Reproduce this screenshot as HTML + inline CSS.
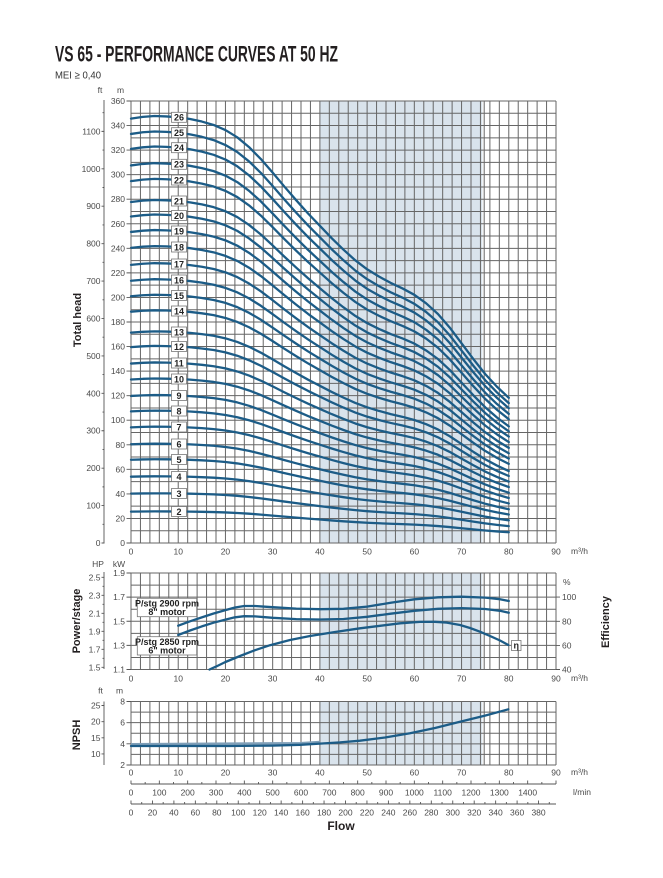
<!DOCTYPE html>
<html><head><meta charset="utf-8"><style>
html,body{margin:0;padding:0;background:#fff;}
svg{display:block;}
.t{font-family:"Liberation Sans",sans-serif;font-size:8.5px;fill:#4a4a4a;}
.b{font-family:"Liberation Sans",sans-serif;font-weight:bold;fill:#231f20;}
.g{fill:none;stroke:#666;stroke-width:1;}
.c{fill:none;stroke:#1c5c87;stroke-width:2.3;stroke-linejoin:round;stroke-linecap:round;}
.bx{fill:#fff;stroke:#777;stroke-width:0.8;}
.lb{font-family:"Liberation Sans",sans-serif;font-weight:bold;font-size:9px;fill:#222;text-anchor:middle;}
</style></head><body>
<svg width="663" height="878" viewBox="0 0 663 878" xmlns="http://www.w3.org/2000/svg">
<defs>
</defs>
<rect width="663" height="878" fill="#fff"/>
<text class="b" x="55" y="61.5" font-size="22.5" textLength="283" lengthAdjust="spacingAndGlyphs">VS 65 - PERFORMANCE CURVES AT 50 HZ</text>
<text x="55" y="78.5" font-family="Liberation Sans, sans-serif" font-size="10.5" fill="#333" textLength="46" lengthAdjust="spacingAndGlyphs">MEI ≥ 0,40</text>

<rect x="319.9" y="101" width="162.5" height="442" fill="#d9e3ec"/>
<rect x="319.9" y="573" width="162.5" height="96.5" fill="#d9e3ec"/>
<rect x="319.9" y="701.5" width="162.5" height="63.5" fill="#d9e3ec"/>

<path class="g" vector-effect="non-scaling-stroke" transform="translate(0 101) scale(1 442)" d="M131 0V1M140.44 0V1M149.89 0V1M159.33 0V1M168.78 0V1M178.22 0V1M187.67 0V1M197.11 0V1M206.56 0V1M216 0V1M225.44 0V1M234.89 0V1M244.33 0V1M253.78 0V1M263.22 0V1M272.67 0V1M282.11 0V1M291.56 0V1M301 0V1M310.44 0V1M319.89 0V1M329.33 0V1M338.78 0V1M348.22 0V1M357.67 0V1M367.11 0V1M376.56 0V1M386 0V1M395.44 0V1M404.89 0V1M414.33 0V1M423.78 0V1M433.22 0V1M442.67 0V1M452.11 0V1M461.56 0V1M471 0V1M480.44 0V1M484.2 0V1M489.89 0V1M499.33 0V1M508.78 0V1M518.22 0V1M527.67 0V1M537.11 0V1M546.56 0V1M556 0V1"/>
<path class="g" vector-effect="non-scaling-stroke" transform="translate(0 573) scale(1 96.5)" d="M131 0V1M140.44 0V1M149.89 0V1M159.33 0V1M168.78 0V1M178.22 0V1M187.67 0V1M197.11 0V1M206.56 0V1M216 0V1M225.44 0V1M234.89 0V1M244.33 0V1M253.78 0V1M263.22 0V1M272.67 0V1M282.11 0V1M291.56 0V1M301 0V1M310.44 0V1M319.89 0V1M329.33 0V1M338.78 0V1M348.22 0V1M357.67 0V1M367.11 0V1M376.56 0V1M386 0V1M395.44 0V1M404.89 0V1M414.33 0V1M423.78 0V1M433.22 0V1M442.67 0V1M452.11 0V1M461.56 0V1M471 0V1M480.44 0V1M484.2 0V1M489.89 0V1M499.33 0V1M508.78 0V1M518.22 0V1M527.67 0V1M537.11 0V1M546.56 0V1M556 0V1"/>
<path class="g" vector-effect="non-scaling-stroke" transform="translate(0 701.5) scale(1 63.5)" d="M131 0V1M140.44 0V1M149.89 0V1M159.33 0V1M168.78 0V1M178.22 0V1M187.67 0V1M197.11 0V1M206.56 0V1M216 0V1M225.44 0V1M234.89 0V1M244.33 0V1M253.78 0V1M263.22 0V1M272.67 0V1M282.11 0V1M291.56 0V1M301 0V1M310.44 0V1M319.89 0V1M329.33 0V1M338.78 0V1M348.22 0V1M357.67 0V1M367.11 0V1M376.56 0V1M386 0V1M395.44 0V1M404.89 0V1M414.33 0V1M423.78 0V1M433.22 0V1M442.67 0V1M452.11 0V1M461.56 0V1M471 0V1M480.44 0V1M484.2 0V1M489.89 0V1M499.33 0V1M508.78 0V1M518.22 0V1M527.67 0V1M537.11 0V1M546.56 0V1M556 0V1"/>
<path class="g" vector-effect="non-scaling-stroke" transform="translate(131 101) scale(425 12.2778)" d="M0 0H1M0 1H1M0 2H1M0 3H1M0 4H1M0 5H1M0 6H1M0 7H1M0 8H1M0 9H1M0 10H1M0 11H1M0 12H1M0 13H1M0 14H1M0 15H1M0 16H1M0 17H1M0 18H1M0 19H1M0 20H1M0 21H1M0 22H1M0 23H1M0 24H1M0 25H1M0 26H1M0 27H1M0 28H1M0 29H1M0 30H1M0 31H1M0 32H1M0 33H1M0 34H1M0 35H1M0 36H1"/>
<path class="g" vector-effect="non-scaling-stroke" transform="translate(131 573) scale(425 12.0625)" d="M0 0H1M0 1H1M0 2H1M0 3H1M0 4H1M0 5H1M0 6H1M0 7H1M0 8H1"/>
<path class="g" vector-effect="non-scaling-stroke" transform="translate(131 701.5) scale(425 10.5833)" d="M0 0H1M0 1H1M0 2H1M0 3H1M0 4H1M0 5H1M0 6H1"/>

<g class="c">
<polyline vector-effect="non-scaling-stroke" transform="translate(131 543) scale(4.7222 -425.7)" points="0,0.997 2.5,1.001 5,1.003 7.5,1.002 10,1 12.5,0.996 15,0.990 17.5,0.982 20,0.970 22.5,0.953 25,0.930 27.5,0.902 30,0.870 32.5,0.837 35,0.805 37.5,0.774 40,0.745 42.5,0.716 45,0.689 47.5,0.664 50,0.643 52.5,0.626 55,0.611 57.5,0.598 60,0.583 62.5,0.563 65,0.538 67.5,0.506 70,0.469 72.5,0.432 75,0.397 77.5,0.367 80,0.341"/>
<polyline vector-effect="non-scaling-stroke" transform="translate(131 543) scale(4.7222 -410.3)" points="0,0.997 2.5,1.001 5,1.003 7.5,1.002 10,1 12.5,0.996 15,0.990 17.5,0.982 20,0.970 22.5,0.953 25,0.930 27.5,0.902 30,0.870 32.5,0.837 35,0.805 37.5,0.774 40,0.745 42.5,0.716 45,0.689 47.5,0.664 50,0.643 52.5,0.626 55,0.611 57.5,0.598 60,0.583 62.5,0.563 65,0.538 67.5,0.506 70,0.469 72.5,0.432 75,0.397 77.5,0.367 80,0.341"/>
<polyline vector-effect="non-scaling-stroke" transform="translate(131 543) scale(4.7222 -395.3)" points="0,0.997 2.5,1.001 5,1.003 7.5,1.002 10,1 12.5,0.996 15,0.990 17.5,0.982 20,0.970 22.5,0.953 25,0.930 27.5,0.902 30,0.870 32.5,0.837 35,0.805 37.5,0.774 40,0.745 42.5,0.716 45,0.689 47.5,0.664 50,0.643 52.5,0.626 55,0.611 57.5,0.598 60,0.583 62.5,0.563 65,0.538 67.5,0.506 70,0.469 72.5,0.432 75,0.397 77.5,0.367 80,0.341"/>
<polyline vector-effect="non-scaling-stroke" transform="translate(131 543) scale(4.7222 -378.7)" points="0,0.997 2.5,1.001 5,1.003 7.5,1.002 10,1 12.5,0.996 15,0.990 17.5,0.982 20,0.970 22.5,0.953 25,0.930 27.5,0.902 30,0.870 32.5,0.837 35,0.805 37.5,0.774 40,0.745 42.5,0.716 45,0.689 47.5,0.664 50,0.643 52.5,0.626 55,0.611 57.5,0.598 60,0.583 62.5,0.563 65,0.538 67.5,0.506 70,0.469 72.5,0.432 75,0.397 77.5,0.367 80,0.341"/>
<polyline vector-effect="non-scaling-stroke" transform="translate(131 543) scale(4.7222 -363)" points="0,0.997 2.5,1.001 5,1.003 7.5,1.002 10,1 12.5,0.996 15,0.990 17.5,0.982 20,0.970 22.5,0.953 25,0.930 27.5,0.902 30,0.870 32.5,0.837 35,0.805 37.5,0.774 40,0.745 42.5,0.716 45,0.689 47.5,0.664 50,0.643 52.5,0.626 55,0.611 57.5,0.598 60,0.583 62.5,0.563 65,0.538 67.5,0.506 70,0.469 72.5,0.432 75,0.397 77.5,0.367 80,0.341"/>
<polyline vector-effect="non-scaling-stroke" transform="translate(131 543) scale(4.7222 -342)" points="0,0.997 2.5,1.001 5,1.003 7.5,1.002 10,1 12.5,0.996 15,0.990 17.5,0.982 20,0.970 22.5,0.953 25,0.930 27.5,0.902 30,0.870 32.5,0.837 35,0.805 37.5,0.774 40,0.745 42.5,0.716 45,0.689 47.5,0.664 50,0.643 52.5,0.626 55,0.611 57.5,0.598 60,0.583 62.5,0.563 65,0.538 67.5,0.506 70,0.469 72.5,0.432 75,0.397 77.5,0.367 80,0.341"/>
<polyline vector-effect="non-scaling-stroke" transform="translate(131 543) scale(4.7222 -327.5)" points="0,0.997 2.5,1.001 5,1.003 7.5,1.002 10,1 12.5,0.996 15,0.990 17.5,0.982 20,0.970 22.5,0.953 25,0.930 27.5,0.902 30,0.870 32.5,0.837 35,0.805 37.5,0.774 40,0.745 42.5,0.716 45,0.689 47.5,0.664 50,0.643 52.5,0.626 55,0.611 57.5,0.598 60,0.583 62.5,0.563 65,0.538 67.5,0.506 70,0.469 72.5,0.432 75,0.397 77.5,0.367 80,0.341"/>
<polyline vector-effect="non-scaling-stroke" transform="translate(131 543) scale(4.7222 -312)" points="0,0.997 2.5,1.001 5,1.003 7.5,1.002 10,1 12.5,0.996 15,0.990 17.5,0.982 20,0.970 22.5,0.953 25,0.930 27.5,0.902 30,0.870 32.5,0.837 35,0.805 37.5,0.774 40,0.745 42.5,0.716 45,0.689 47.5,0.664 50,0.643 52.5,0.626 55,0.611 57.5,0.598 60,0.583 62.5,0.563 65,0.538 67.5,0.506 70,0.469 72.5,0.432 75,0.397 77.5,0.367 80,0.341"/>
<polyline vector-effect="non-scaling-stroke" transform="translate(131 543) scale(4.7222 -296)" points="0,0.997 2.5,1.001 5,1.003 7.5,1.002 10,1 12.5,0.996 15,0.990 17.5,0.982 20,0.970 22.5,0.953 25,0.930 27.5,0.902 30,0.870 32.5,0.837 35,0.805 37.5,0.774 40,0.745 42.5,0.716 45,0.689 47.5,0.664 50,0.643 52.5,0.626 55,0.611 57.5,0.598 60,0.583 62.5,0.563 65,0.538 67.5,0.506 70,0.469 72.5,0.432 75,0.397 77.5,0.367 80,0.341"/>
<polyline vector-effect="non-scaling-stroke" transform="translate(131 543) scale(4.7222 -279)" points="0,0.997 2.5,1.001 5,1.003 7.5,1.002 10,1 12.5,0.996 15,0.990 17.5,0.982 20,0.970 22.5,0.953 25,0.930 27.5,0.902 30,0.870 32.5,0.837 35,0.805 37.5,0.774 40,0.745 42.5,0.716 45,0.689 47.5,0.664 50,0.643 52.5,0.626 55,0.611 57.5,0.598 60,0.583 62.5,0.563 65,0.538 67.5,0.506 70,0.469 72.5,0.432 75,0.397 77.5,0.367 80,0.341"/>
<polyline vector-effect="non-scaling-stroke" transform="translate(131 543) scale(4.7222 -263)" points="0,0.997 2.5,1.001 5,1.003 7.5,1.002 10,1 12.5,0.996 15,0.990 17.5,0.982 20,0.970 22.5,0.953 25,0.930 27.5,0.902 30,0.870 32.5,0.837 35,0.805 37.5,0.774 40,0.745 42.5,0.716 45,0.689 47.5,0.664 50,0.643 52.5,0.626 55,0.611 57.5,0.598 60,0.583 62.5,0.563 65,0.538 67.5,0.506 70,0.469 72.5,0.432 75,0.397 77.5,0.367 80,0.341"/>
<polyline vector-effect="non-scaling-stroke" transform="translate(131 543) scale(4.7222 -247.5)" points="0,0.997 2.5,1.001 5,1.003 7.5,1.002 10,1 12.5,0.996 15,0.990 17.5,0.982 20,0.970 22.5,0.953 25,0.930 27.5,0.902 30,0.870 32.5,0.837 35,0.805 37.5,0.774 40,0.745 42.5,0.716 45,0.689 47.5,0.664 50,0.643 52.5,0.626 55,0.611 57.5,0.598 60,0.583 62.5,0.563 65,0.538 67.5,0.506 70,0.469 72.5,0.432 75,0.397 77.5,0.367 80,0.341"/>
<polyline vector-effect="non-scaling-stroke" transform="translate(131 543) scale(4.7222 -232)" points="0,0.997 2.5,1.001 5,1.003 7.5,1.002 10,1 12.5,0.996 15,0.990 17.5,0.982 20,0.970 22.5,0.953 25,0.930 27.5,0.902 30,0.870 32.5,0.837 35,0.805 37.5,0.774 40,0.745 42.5,0.716 45,0.689 47.5,0.664 50,0.643 52.5,0.626 55,0.611 57.5,0.598 60,0.583 62.5,0.563 65,0.538 67.5,0.506 70,0.469 72.5,0.432 75,0.397 77.5,0.367 80,0.341"/>
<polyline vector-effect="non-scaling-stroke" transform="translate(131 543) scale(4.7222 -211)" points="0,0.997 2.5,1.001 5,1.003 7.5,1.002 10,1 12.5,0.996 15,0.990 17.5,0.982 20,0.970 22.5,0.953 25,0.930 27.5,0.902 30,0.870 32.5,0.837 35,0.805 37.5,0.774 40,0.745 42.5,0.716 45,0.689 47.5,0.664 50,0.643 52.5,0.626 55,0.611 57.5,0.598 60,0.583 62.5,0.563 65,0.538 67.5,0.506 70,0.469 72.5,0.432 75,0.397 77.5,0.367 80,0.341"/>
<polyline vector-effect="non-scaling-stroke" transform="translate(131 543) scale(4.7222 -196.5)" points="0,0.997 2.5,1.001 5,1.003 7.5,1.002 10,1 12.5,0.996 15,0.990 17.5,0.982 20,0.970 22.5,0.953 25,0.930 27.5,0.902 30,0.870 32.5,0.837 35,0.805 37.5,0.774 40,0.745 42.5,0.716 45,0.689 47.5,0.664 50,0.643 52.5,0.626 55,0.611 57.5,0.598 60,0.583 62.5,0.563 65,0.538 67.5,0.506 70,0.469 72.5,0.432 75,0.397 77.5,0.367 80,0.341"/>
<polyline vector-effect="non-scaling-stroke" transform="translate(131 543) scale(4.7222 -180)" points="0,0.997 2.5,1.001 5,1.003 7.5,1.002 10,1 12.5,0.996 15,0.990 17.5,0.982 20,0.970 22.5,0.953 25,0.930 27.5,0.902 30,0.870 32.5,0.837 35,0.805 37.5,0.774 40,0.745 42.5,0.716 45,0.689 47.5,0.664 50,0.643 52.5,0.626 55,0.611 57.5,0.598 60,0.583 62.5,0.563 65,0.538 67.5,0.506 70,0.469 72.5,0.432 75,0.397 77.5,0.367 80,0.341"/>
<polyline vector-effect="non-scaling-stroke" transform="translate(131 543) scale(4.7222 -164)" points="0,0.997 2.5,1.001 5,1.003 7.5,1.002 10,1 12.5,0.996 15,0.990 17.5,0.982 20,0.970 22.5,0.953 25,0.930 27.5,0.902 30,0.870 32.5,0.837 35,0.805 37.5,0.774 40,0.745 42.5,0.716 45,0.689 47.5,0.664 50,0.643 52.5,0.626 55,0.611 57.5,0.598 60,0.583 62.5,0.563 65,0.538 67.5,0.506 70,0.469 72.5,0.432 75,0.397 77.5,0.367 80,0.341"/>
<polyline vector-effect="non-scaling-stroke" transform="translate(131 543) scale(4.7222 -147.5)" points="0,0.997 2.5,1.001 5,1.003 7.5,1.002 10,1 12.5,0.996 15,0.990 17.5,0.982 20,0.970 22.5,0.953 25,0.930 27.5,0.902 30,0.870 32.5,0.837 35,0.805 37.5,0.774 40,0.745 42.5,0.716 45,0.689 47.5,0.664 50,0.643 52.5,0.626 55,0.611 57.5,0.598 60,0.583 62.5,0.563 65,0.538 67.5,0.506 70,0.469 72.5,0.432 75,0.397 77.5,0.367 80,0.341"/>
<polyline vector-effect="non-scaling-stroke" transform="translate(131 543) scale(4.7222 -132)" points="0,0.997 2.5,1.001 5,1.003 7.5,1.002 10,1 12.5,0.996 15,0.990 17.5,0.982 20,0.970 22.5,0.953 25,0.930 27.5,0.902 30,0.870 32.5,0.837 35,0.805 37.5,0.774 40,0.745 42.5,0.716 45,0.689 47.5,0.664 50,0.643 52.5,0.626 55,0.611 57.5,0.598 60,0.583 62.5,0.563 65,0.538 67.5,0.506 70,0.469 72.5,0.432 75,0.397 77.5,0.367 80,0.341"/>
<polyline vector-effect="non-scaling-stroke" transform="translate(131 543) scale(4.7222 -116)" points="0,0.997 2.5,1.001 5,1.003 7.5,1.002 10,1 12.5,0.996 15,0.990 17.5,0.982 20,0.970 22.5,0.953 25,0.930 27.5,0.902 30,0.870 32.5,0.837 35,0.805 37.5,0.774 40,0.745 42.5,0.716 45,0.689 47.5,0.664 50,0.643 52.5,0.626 55,0.611 57.5,0.598 60,0.583 62.5,0.563 65,0.538 67.5,0.506 70,0.469 72.5,0.432 75,0.397 77.5,0.367 80,0.341"/>
<polyline vector-effect="non-scaling-stroke" transform="translate(131 543) scale(4.7222 -99)" points="0,0.997 2.5,1.001 5,1.003 7.5,1.002 10,1 12.5,0.996 15,0.990 17.5,0.982 20,0.970 22.5,0.953 25,0.930 27.5,0.902 30,0.870 32.5,0.837 35,0.805 37.5,0.774 40,0.745 42.5,0.716 45,0.689 47.5,0.664 50,0.643 52.5,0.626 55,0.611 57.5,0.598 60,0.583 62.5,0.563 65,0.538 67.5,0.506 70,0.469 72.5,0.432 75,0.397 77.5,0.367 80,0.341"/>
<polyline vector-effect="non-scaling-stroke" transform="translate(131 543) scale(4.7222 -83.5)" points="0,0.997 2.5,1.001 5,1.003 7.5,1.002 10,1 12.5,0.996 15,0.990 17.5,0.982 20,0.970 22.5,0.953 25,0.930 27.5,0.902 30,0.870 32.5,0.837 35,0.805 37.5,0.774 40,0.745 42.5,0.716 45,0.689 47.5,0.664 50,0.643 52.5,0.626 55,0.611 57.5,0.598 60,0.583 62.5,0.563 65,0.538 67.5,0.506 70,0.469 72.5,0.432 75,0.397 77.5,0.367 80,0.341"/>
<polyline vector-effect="non-scaling-stroke" transform="translate(131 543) scale(4.7222 -66.5)" points="0,0.997 2.5,1.001 5,1.003 7.5,1.002 10,1 12.5,0.996 15,0.990 17.5,0.982 20,0.970 22.5,0.953 25,0.930 27.5,0.902 30,0.870 32.5,0.837 35,0.805 37.5,0.774 40,0.745 42.5,0.716 45,0.689 47.5,0.664 50,0.643 52.5,0.626 55,0.611 57.5,0.598 60,0.583 62.5,0.563 65,0.538 67.5,0.506 70,0.469 72.5,0.432 75,0.397 77.5,0.367 80,0.341"/>
<polyline vector-effect="non-scaling-stroke" transform="translate(131 543) scale(4.7222 -49.5)" points="0,0.997 2.5,1.001 5,1.003 7.5,1.002 10,1 12.5,0.996 15,0.990 17.5,0.982 20,0.970 22.5,0.953 25,0.930 27.5,0.902 30,0.870 32.5,0.837 35,0.805 37.5,0.774 40,0.745 42.5,0.716 45,0.689 47.5,0.664 50,0.643 52.5,0.626 55,0.611 57.5,0.598 60,0.583 62.5,0.563 65,0.538 67.5,0.506 70,0.469 72.5,0.432 75,0.397 77.5,0.367 80,0.341"/>
<polyline vector-effect="non-scaling-stroke" transform="translate(131 543) scale(4.7222 -31.5)" points="0,0.997 2.5,1.001 5,1.003 7.5,1.002 10,1 12.5,0.996 15,0.990 17.5,0.982 20,0.970 22.5,0.953 25,0.930 27.5,0.902 30,0.870 32.5,0.837 35,0.805 37.5,0.774 40,0.745 42.5,0.716 45,0.689 47.5,0.664 50,0.643 52.5,0.626 55,0.611 57.5,0.598 60,0.583 62.5,0.563 65,0.538 67.5,0.506 70,0.469 72.5,0.432 75,0.397 77.5,0.367 80,0.341"/>
</g>

<g>
<rect class="bx" x="171.5" y="112.3" width="15" height="10"/><text class="lb" x="179" y="120.6">26</text>
<rect class="bx" x="171.5" y="127.7" width="15" height="10"/><text class="lb" x="179" y="136">25</text>
<rect class="bx" x="171.5" y="142.7" width="15" height="10"/><text class="lb" x="179" y="151">24</text>
<rect class="bx" x="171.5" y="159.3" width="15" height="10"/><text class="lb" x="179" y="167.6">23</text>
<rect class="bx" x="171.5" y="175" width="15" height="10"/><text class="lb" x="179" y="183.3">22</text>
<rect class="bx" x="171.5" y="196" width="15" height="10"/><text class="lb" x="179" y="204.3">21</text>
<rect class="bx" x="171.5" y="210.5" width="15" height="10"/><text class="lb" x="179" y="218.8">20</text>
<rect class="bx" x="171.5" y="226" width="15" height="10"/><text class="lb" x="179" y="234.3">19</text>
<rect class="bx" x="171.5" y="242" width="15" height="10"/><text class="lb" x="179" y="250.3">18</text>
<rect class="bx" x="171.5" y="259" width="15" height="10"/><text class="lb" x="179" y="267.3">17</text>
<rect class="bx" x="171.5" y="275" width="15" height="10"/><text class="lb" x="179" y="283.3">16</text>
<rect class="bx" x="171.5" y="290.5" width="15" height="10"/><text class="lb" x="179" y="298.8">15</text>
<rect class="bx" x="171.5" y="306" width="15" height="10"/><text class="lb" x="179" y="314.3">14</text>
<rect class="bx" x="171.5" y="327" width="15" height="10"/><text class="lb" x="179" y="335.3">13</text>
<rect class="bx" x="171.5" y="341.5" width="15" height="10"/><text class="lb" x="179" y="349.8">12</text>
<rect class="bx" x="171.5" y="358" width="15" height="10"/><text class="lb" x="179" y="366.3">11</text>
<rect class="bx" x="171.5" y="374" width="15" height="10"/><text class="lb" x="179" y="382.3">10</text>
<rect class="bx" x="171.5" y="390.5" width="15" height="10"/><text class="lb" x="179" y="398.8">9</text>
<rect class="bx" x="171.5" y="406" width="15" height="10"/><text class="lb" x="179" y="414.3">8</text>
<rect class="bx" x="171.5" y="422" width="15" height="10"/><text class="lb" x="179" y="430.3">7</text>
<rect class="bx" x="171.5" y="439" width="15" height="10"/><text class="lb" x="179" y="447.3">6</text>
<rect class="bx" x="171.5" y="454.5" width="15" height="10"/><text class="lb" x="179" y="462.8">5</text>
<rect class="bx" x="171.5" y="471.5" width="15" height="10"/><text class="lb" x="179" y="479.8">4</text>
<rect class="bx" x="171.5" y="488.5" width="15" height="10"/><text class="lb" x="179" y="496.8">3</text>
<rect class="bx" x="171.5" y="506.5" width="15" height="10"/><text class="lb" x="179" y="514.8">2</text>
</g>

<g fill="none" stroke="#555" stroke-width="0.9">
<path d="M104 100V543"/>
<path d="M101.5 543h3m-2 -18.71h2m-3 -18.71h3m-2 -18.71h2m-3 -18.71h3m-2 -18.71h2m-3 -18.71h3m-2 -18.71h2m-3 -18.71h3m-2 -18.71h2m-3 -18.71h3m-2 -18.71h2m-3 -18.71h3m-2 -18.71h2m-3 -18.71h3m-2 -18.71h2m-3 -18.71h3m-2 -18.71h2m-3 -18.71h3m-2 -18.71h2m-3 -18.71h3m-2 -18.71h2m-3 -18.71h3m-2 -18.71h2"/>
<path d="M126.5 543h4.5m-4.5 -24.556h4.5m-4.5 -24.556h4.5m-4.5 -24.556h4.5m-4.5 -24.556h4.5m-4.5 -24.556h4.5m-4.5 -24.556h4.5m-4.5 -24.556h4.5m-4.5 -24.556h4.5m-4.5 -24.556h4.5m-4.5 -24.556h4.5m-4.5 -24.556h4.5m-4.5 -24.556h4.5m-4.5 -24.556h4.5m-4.5 -24.556h4.5m-4.5 -24.556h4.5m-4.5 -24.556h4.5m-4.5 -24.556h4.5m-4.5 -24.556h4.5"/>
</g>
<text class="t" x="100" y="93" text-anchor="middle" font-size="7.5">ft</text>
<text class="t" x="120.5" y="93" text-anchor="middle" font-size="7.5">m</text>
<g class="t" text-anchor="end">
<text x="125" y="104">360</text><text x="125" y="128.5">340</text><text x="125" y="153.1">320</text><text x="125" y="177.7">300</text>
<text x="125" y="202.2">280</text><text x="125" y="226.8">260</text><text x="125" y="251.3">240</text><text x="125" y="275.9">220</text>
<text x="125" y="300.4">200</text><text x="125" y="325">180</text><text x="125" y="349.6">160</text><text x="125" y="374.1">140</text>
<text x="125" y="398.7">120</text><text x="125" y="423.2">100</text><text x="125" y="447.8">80</text><text x="125" y="472.3">60</text>
<text x="125" y="496.9">40</text><text x="125" y="521.4">20</text><text x="125" y="546">0</text>
<text x="100.5" y="134.3">1100</text><text x="100.5" y="171.8">1000</text><text x="100.5" y="209.2">900</text><text x="100.5" y="246.6">800</text>
<text x="100.5" y="284">700</text><text x="100.5" y="321.5">600</text><text x="100.5" y="358.9">500</text><text x="100.5" y="396.3">400</text>
<text x="100.5" y="433.7">300</text><text x="100.5" y="471.2">200</text><text x="100.5" y="508.6">100</text><text x="100.5" y="546">0</text>
</g>
<g class="t" text-anchor="middle">
<text x="131" y="554.5">0</text><text x="178.22" y="554.5">10</text><text x="225.44" y="554.5">20</text><text x="272.67" y="554.5">30</text>
<text x="319.89" y="554.5">40</text><text x="367.11" y="554.5">50</text><text x="414.33" y="554.5">60</text><text x="461.56" y="554.5">70</text>
<text x="508.78" y="554.5">80</text><text x="556" y="554.5">90</text>
</g>
<text class="t" x="571" y="554">m³/h</text>
<text class="b" font-size="11" text-anchor="middle" transform="translate(81 320) rotate(-90)">Total head</text>

<g class="c">
<polyline points="178.2,625.7 190,621.3 201.8,617.4 213.6,613.5 225.4,610.1 235,607.5 244.3,606 255,606 265,606.7 272.7,607.2 296.3,608.6 319.9,609.2 343.5,608.8 367.1,606.6 390.7,602.8 414.3,599.3 438,597.3 461.5,596.7 485.2,597.6 500,599.2 508.8,601"/>
<polyline points="178.2,635 190,630.5 201.8,626.4 213.6,622.7 225.4,619.6 235,617.3 244.3,616.2 255,616.4 265,617.2 272.7,617.8 296.3,619.1 319.9,619.5 343.5,619 367.1,616.8 390.7,613.7 414.3,610.8 438,608.8 461.5,608.1 485.2,609 500,610.8 508.8,612.7"/>
<polyline points="209.5,669.5 216,666.6 225.4,662 240,656 255,650.2 270,645.2 290,640 310,636 335,632 360,628.3 380,625.8 400,623.3 420,621.9 435,621.8 446.7,622.6 460,625 470,628 480,631.7 490,636 500,640.5 508.3,645"/>
</g>
<rect class="bx" x="137.3" y="598.3" width="59.4" height="18.4"/>
<text class="lb" x="167" y="606.5" font-size="8.5">P/stg 2900 rpm</text>
<text class="lb" x="167" y="615" font-size="8.5">8" motor</text>
<rect class="bx" x="137.3" y="636.7" width="59.4" height="18.3"/>
<text class="lb" x="167" y="644.8" font-size="8.5">P/stg 2850 rpm</text>
<text class="lb" x="167" y="653.3" font-size="8.5">6" motor</text>
<rect class="bx" x="511.5" y="640.5" width="9.5" height="10"/>
<text class="lb" x="516.2" y="648.3" font-size="8.5">η</text>

<g fill="none" stroke="#555" stroke-width="0.9">
<path d="M104 572V669"/>
<path d="M101.5 667.3h3m-2 -9h2m-3 -9h3m-2 -9h2m-3 -9h3m-2 -9h2m-3 -9h3m-2 -9h2m-3 -9h3m-2 -9h2m-3 -9h3"/>
<path d="M126.5 573h4.5m-4.5 24.125h4.5m-4.5 24.125h4.5m-4.5 24.125h4.5m-4.5 24.125h4.5"/>
<path d="M556 597.1h4m-4 24.2h4m-4 24.1h4m-4 24.1h4"/>
</g>
<text class="t" x="98" y="567" text-anchor="middle" font-size="7.5">HP</text>
<text class="t" x="119" y="567" text-anchor="middle" font-size="7.5">kW</text>
<g class="t" text-anchor="end">
<text x="125" y="576">1.9</text><text x="125" y="600.1">1.7</text><text x="125" y="624.3">1.5</text><text x="125" y="648.4">1.3</text><text x="125" y="672.5">1.1</text>
<text x="100.5" y="580.3">2.5</text><text x="100.5" y="598.3">2.3</text><text x="100.5" y="616.3">2.1</text><text x="100.5" y="634.3">1.9</text><text x="100.5" y="652.3">1.7</text><text x="100.5" y="670.3">1.5</text>
</g>
<g class="t">
<text x="562" y="600.1">100</text><text x="562" y="624.3">80</text><text x="562" y="648.4">60</text><text x="562" y="672.5">40</text>
<text x="563" y="585">%</text>
</g>
<g class="t" text-anchor="middle">
<text x="131" y="681.5">0</text><text x="178.22" y="681.5">10</text><text x="225.44" y="681.5">20</text><text x="272.67" y="681.5">30</text>
<text x="319.89" y="681.5">40</text><text x="367.11" y="681.5">50</text><text x="414.33" y="681.5">60</text><text x="461.56" y="681.5">70</text>
<text x="508.78" y="681.5">80</text><text x="556" y="681.5">90</text>
</g>
<text class="t" x="571" y="681">m³/h</text>
<text class="b" font-size="11" text-anchor="middle" transform="translate(80 621) rotate(-90)">Power/stage</text>
<text class="b" font-size="11" text-anchor="middle" transform="translate(609 622) rotate(-90)">Efficiency</text>

<path d="M131 744.2 L300 743.2 L320 742" fill="none" stroke="#7f9fb8" stroke-width="2.5"/>
<polyline class="c" stroke-width="2.6" points="131,746 180,746 230,746 272.7,745.6 300,744.8 320,743.6 340,742.4 360,740.7 385,737.5 410,733.3 435,728 460,721.7 485,715.6 508.3,709.3"/>
<g fill="none" stroke="#555" stroke-width="0.9">
<path d="M104 701.5V765"/>
<path d="M101.5 753.9h3m-3 -16.1h3m-3 -16.1h3m-3 -16.2h3"/>
<path d="M126.5 701.5h4.5m-4.5 21.17h4.5m-4.5 21.17h4.5m-4.5 21.16h4.5"/>
</g>
<text class="t" x="100.5" y="693.5" text-anchor="middle" font-size="7.5">ft</text>
<text class="t" x="119.5" y="693.5" text-anchor="middle" font-size="7.5">m</text>
<g class="t" text-anchor="end">
<text x="125" y="704.5">8</text><text x="125" y="725.7">6</text><text x="125" y="746.8">4</text><text x="125" y="768">2</text>
<text x="100.5" y="708.5">25</text><text x="100.5" y="724.7">20</text><text x="100.5" y="740.8">15</text><text x="100.5" y="756.9">10</text>
</g>
<g class="t" text-anchor="middle">
<text x="131" y="775.5">0</text><text x="178.22" y="775.5">10</text><text x="225.44" y="775.5">20</text><text x="272.67" y="775.5">30</text>
<text x="319.89" y="775.5">40</text><text x="367.11" y="775.5">50</text><text x="414.33" y="775.5">60</text><text x="461.56" y="775.5">70</text>
<text x="508.78" y="775.5">80</text><text x="556" y="775.5">90</text>
</g>
<text class="t" x="571" y="775">m³/h</text>
<text class="b" font-size="11" text-anchor="middle" transform="translate(80 735) rotate(-90)">NPSH</text>

<g fill="none" stroke="#555" stroke-width="0.9">
<path d="M131 784H556"/>
<path d="M131 780.5v3.5m14.167 -2v2m14.167 -3.5v3.5m14.167 -2v2m14.167 -3.5v3.5m14.167 -2v2m14.167 -3.5v3.5m14.167 -2v2m14.167 -3.5v3.5m14.167 -2v2m14.167 -3.5v3.5m14.167 -2v2m14.167 -3.5v3.5m14.167 -2v2m14.167 -3.5v3.5m14.167 -2v2m14.167 -3.5v3.5m14.167 -2v2m14.167 -3.5v3.5m14.167 -2v2m14.167 -3.5v3.5m14.167 -2v2m14.167 -3.5v3.5m14.167 -2v2m14.167 -3.5v3.5m14.167 -2v2m14.167 -3.5v3.5m14.167 -2v2m14.167 -3.5v3.5m14.167 -2v2m14.167 -3.5v3.5"/>
<path d="M131 804H556"/>
<path d="M131 800.5v3.5m10.725 -2v2m10.725 -3.5v3.5m10.725 -2v2m10.725 -3.5v3.5m10.725 -2v2m10.725 -3.5v3.5m10.725 -2v2m10.725 -3.5v3.5m10.725 -2v2m10.725 -3.5v3.5m10.725 -2v2m10.725 -3.5v3.5m10.725 -2v2m10.725 -3.5v3.5m10.725 -2v2m10.725 -3.5v3.5m10.725 -2v2m10.725 -3.5v3.5m10.725 -2v2m10.725 -3.5v3.5m10.725 -2v2m10.725 -3.5v3.5m10.725 -2v2m10.725 -3.5v3.5m10.725 -2v2m10.725 -3.5v3.5m10.725 -2v2m10.725 -3.5v3.5m10.725 -2v2m10.725 -3.5v3.5m10.725 -2v2m10.725 -3.5v3.5m10.725 -2v2m10.725 -3.5v3.5m10.725 -2v2m10.725 -3.5v3.5m10.725 -2v2m10.725 -3.5v3.5m10.725 -2v2"/>
</g>
<g class="t" text-anchor="middle">
<text x="131" y="795.5">0</text><text x="159.33" y="795.5">100</text><text x="187.67" y="795.5">200</text><text x="216" y="795.5">300</text>
<text x="244.33" y="795.5">400</text><text x="272.67" y="795.5">500</text><text x="301" y="795.5">600</text><text x="329.33" y="795.5">700</text>
<text x="357.67" y="795.5">800</text><text x="386" y="795.5">900</text><text x="414.33" y="795.5">1000</text><text x="442.67" y="795.5">1100</text>
<text x="471" y="795.5">1200</text><text x="499.33" y="795.5">1300</text><text x="527.67" y="795.5">1400</text>
<text x="131" y="815.5">0</text><text x="152.45" y="815.5">20</text><text x="173.9" y="815.5">40</text><text x="195.35" y="815.5">60</text>
<text x="216.8" y="815.5">80</text><text x="238.25" y="815.5">100</text><text x="259.7" y="815.5">120</text><text x="281.15" y="815.5">140</text>
<text x="302.6" y="815.5">160</text><text x="324.05" y="815.5">180</text><text x="345.5" y="815.5">200</text><text x="366.95" y="815.5">220</text>
<text x="388.4" y="815.5">240</text><text x="409.85" y="815.5">260</text><text x="431.3" y="815.5">280</text><text x="452.75" y="815.5">300</text>
<text x="474.2" y="815.5">320</text><text x="495.65" y="815.5">340</text><text x="517.1" y="815.5">360</text><text x="538.55" y="815.5">380</text>
</g>
<text class="t" x="573" y="795">l/min</text>
<text class="b" font-size="12" x="341" y="830" text-anchor="middle">Flow</text>
</svg>
</body></html>
